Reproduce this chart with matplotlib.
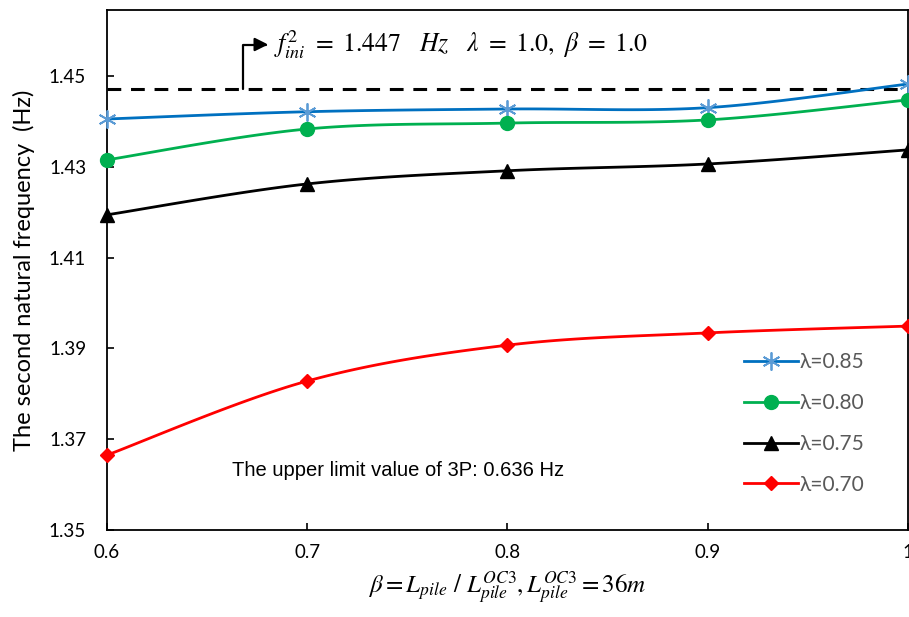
import numpy as np
import matplotlib
matplotlib.use("Agg")
import matplotlib.pyplot as plt

# data
beta = [0.6, 0.7, 0.8, 0.9, 1.0]
f_085 = [1.4405, 1.4421, 1.4427, 1.4430, 1.4482]
f_080 = [1.4315, 1.4383, 1.4396, 1.4403, 1.4447]
f_075 = [1.4194, 1.4262, 1.4291, 1.4306, 1.4337]
f_070 = [1.3665, 1.3828, 1.3907, 1.3934, 1.3949]
f_ini = 1.447
labels = ["λ=0.85", "λ=0.80", "λ=0.75", "λ=0.70"]


def smooth(x, y, n=30):
    """Excel-style smoothed line (Catmull-Rom Bezier)."""
    x = np.asarray(x, float)
    y = np.asarray(y, float)
    px = np.concatenate([[x[0]], x, [x[-1]]])
    py = np.concatenate([[y[0]], y, [y[-1]]])
    xs, ys = [], []
    t = np.linspace(0, 1, n)
    for i in range(1, len(x)):
        p0 = np.array([px[i], py[i]])
        p3 = np.array([px[i + 1], py[i + 1]])
        p1 = p0 + (p3 - np.array([px[i - 1], py[i - 1]])) / 6.0
        p2 = p3 - (np.array([px[i + 2], py[i + 2]]) - p0) / 6.0
        b = ((1 - t) ** 3)[:, None] * p0 + (3 * (1 - t) ** 2 * t)[:, None] * p1 \
            + (3 * (1 - t) * t ** 2)[:, None] * p2 + (t ** 3)[:, None] * p3
        xs.extend(b[:, 0])
        ys.extend(b[:, 1])
    return xs, ys


fig = plt.figure(figsize=(9.09, 6.17), dpi=100)
ax = fig.add_axes([0.1177, 0.141, 0.8812, 0.8428])

series = [
    (f_085, "#0070C0", dict(marker=(6, 2, 0), ms=13, mec="#5B9BD5", mfc="#5B9BD5", mew=1.3)),
    (f_080, "#00B050", dict(marker="o", ms=10, mec="#00B050", mfc="#00B050")),
    (f_075, "#000000", dict(marker="^", ms=10, mec="#000000", mfc="#000000")),
    (f_070, "#FF0000", dict(marker="D", ms=7, mec="#FF0000", mfc="#FF0000")),
]
handles = []
for (vals, col, mk), lab in zip(series, labels):
    sx, sy = smooth(beta, vals)
    ax.plot(sx, sy, color=col, lw=2.0, zorder=3)
    ax.plot(beta, vals, ls="none", zorder=4, clip_on=False, **mk)
    h, = ax.plot([], [], color=col, lw=2.0, **mk)
    handles.append(h)

ax.axhline(f_ini, color="black", lw=2.2, ls=(0, (4.5, 3.2)), zorder=2)

ax.set_xlim(0.6, 1.0)
ax.set_ylim(1.35, 1.4645)
ax.set_xticks(beta)
ax.set_xticklabels(["0.6", "0.7", "0.8", "0.9", "1"])
ax.set_yticks([1.35, 1.37, 1.39, 1.41, 1.43, 1.45])
ax.tick_params(direction="in", length=5, width=1.2, labelsize=13.5)
ax.tick_params(axis="y", pad=15)
ax.tick_params(axis="x", pad=10)
for lab in ax.get_xticklabels() + ax.get_yticklabels():
    lab.set_fontfamily("Lato")
for s in ax.spines.values():
    s.set_linewidth(1.3)

ax.set_ylabel("The second natural frequency  (Hz)", fontsize=17,
              fontfamily="Lato", labelpad=10)
ax.set_xlabel(r"$\beta = L_{pile}\ /\ L_{pile}^{OC3}, L_{pile}^{OC3} = 36m$",
              fontsize=18, labelpad=6, math_fontfamily="stix")

# arrow annotation for the reference frequency
ax.annotate("", xy=(0.6805, 1.4569), xytext=(0.6680, f_ini),
            arrowprops=dict(arrowstyle="-|>", connectionstyle="angle,angleA=90,angleB=0,rad=0",
                            color="black", lw=1.6, mutation_scale=20,
                            shrinkA=0, shrinkB=0))
ax.text(0.6835, 1.4569,
        r"$f_{ini}^{2}\ = \ 1.447\ \ \ Hz\ \ \ \lambda\ =\ 1.0,\ \beta\ =\ 1.0$",
        fontsize=18.5, va="center", ha="left", math_fontfamily="stix")

ax.text(0.6625, 1.3632, "The upper limit value of 3P: 0.636 Hz",
        fontsize=14.5, fontfamily="Liberation Sans", va="center")

leg = ax.legend(handles, labels, loc="upper left", bbox_to_anchor=(0.795, 0.342),
                frameon=False, handlelength=2.6, handletextpad=0.1,
                borderaxespad=0, borderpad=0,
                labelspacing=1.0, prop={"family": "Lato", "size": 15})
for t in leg.get_texts():
    t.set_color("#595959")

fig.savefig("out.png", dpi=100)
